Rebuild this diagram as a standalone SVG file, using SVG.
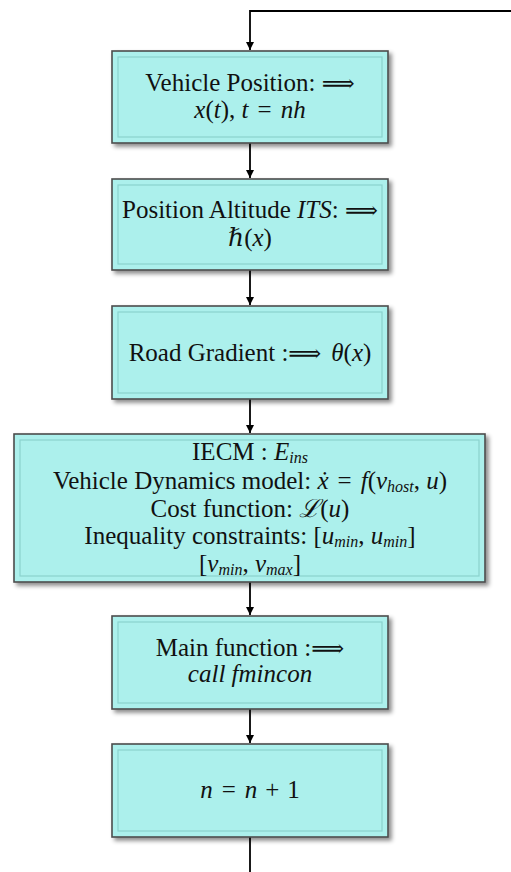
<svg xmlns="http://www.w3.org/2000/svg" width="511" height="872" viewBox="0 0 511 872">
  <style>
    .box { fill: #acf0ec; stroke: #4d4d4d; stroke-width: 1.6; }
    .inner { fill: none; stroke: #8ad2ce; stroke-width: 1.2; }
    .lbl { font-family: "Liberation Serif", "DejaVu Serif", serif; font-size: 25px; fill: #111; text-anchor: middle; }
    .m { font-style: italic; }
    .sub { font-style: italic; font-size: 16px; }
    .sym { font-family: "DejaVu Serif", serif; font-size: 23px; }
    .wire { fill: none; stroke: #000; stroke-width: 1.8; }
  </style>
  <defs>
    <filter id="shadow" x="-5%" y="-10%" width="115%" height="130%">
      <feDropShadow dx="3" dy="3" stdDeviation="2" flood-color="#000" flood-opacity="0.45"/>
    </filter>
    <marker id="arrow" viewBox="0 0 10 10" refX="10" refY="5" markerWidth="8" markerHeight="8" markerUnits="userSpaceOnUse" orient="auto">
      <path d="M0,0 L10,5 L0,10 z" fill="#000"/>
    </marker>
  </defs>

  <!-- connectors -->
  <g id="connectors">
    <path class="wire" d="M511,11 H250 V50" marker-end="url(#arrow)"/>
    <path class="wire" d="M250,143 V178" marker-end="url(#arrow)"/>
    <path class="wire" d="M250,270 V305" marker-end="url(#arrow)"/>
    <path class="wire" d="M250,399 V433" marker-end="url(#arrow)"/>
    <path class="wire" d="M250,582 V615" marker-end="url(#arrow)"/>
    <path class="wire" d="M250,709 V743" marker-end="url(#arrow)"/>
    <path class="wire" d="M250,837 V872"/>
  </g>

  <!-- vehicle position -->
  <g id="position">
    <rect class="box" x="112" y="51" width="276" height="92" filter="url(#shadow)"/>
    <rect class="inner" x="118" y="57" width="264" height="80"/>
    <text class="lbl" x="250" y="91">Vehicle Position: <tspan class="sym">⟹</tspan></text>
    <text class="lbl" x="250" y="118"><tspan class="m">x</tspan>(<tspan class="m">t</tspan>), <tspan class="m">t</tspan><tspan dx="9">=</tspan><tspan class="m" dx="9">nh</tspan></text>
  </g>

  <!-- altitude -->
  <g id="altitude">
    <rect class="box" x="112" y="179" width="276" height="91" filter="url(#shadow)"/>
    <rect class="inner" x="118" y="185" width="264" height="79"/>
    <text class="lbl" x="250" y="218">Position Altitude <tspan class="m">ITS</tspan>: <tspan class="sym">⟹</tspan></text>
    <text class="lbl" x="250" y="246"><tspan class="m">ℏ</tspan>(<tspan class="m">x</tspan>)</text>
  </g>

  <!-- gradient -->
  <g id="gradient">
    <rect class="box" x="112" y="306" width="276" height="93" filter="url(#shadow)"/>
    <rect class="inner" x="118" y="312" width="264" height="81"/>
    <text class="lbl" x="250" y="361">Road Gradient :<tspan class="sym">⟹</tspan><tspan class="m" dx="10">θ</tspan>(<tspan class="m">x</tspan>)</text>
  </g>

  <!-- model setup -->
  <g id="model">
    <rect class="box" x="14" y="434" width="471" height="148" filter="url(#shadow)"/>
    <rect class="inner" x="20" y="440" width="459" height="136"/>
    <text class="lbl" x="250" y="460">IECM : <tspan class="m">E</tspan><tspan class="sub" dy="3">ins</tspan></text>
    <text class="lbl" x="250" y="489">Vehicle Dynamics model: <tspan class="m">ẋ</tspan><tspan dx="9">=</tspan><tspan class="m" dx="9">f</tspan>(<tspan class="m">v</tspan><tspan class="sub" dy="3">host</tspan><tspan dy="-3">, </tspan><tspan class="m">u</tspan>)</text>
    <text class="lbl" x="250" y="517">Cost function: <tspan class="m">ℒ</tspan>(<tspan class="m">u</tspan>)</text>
    <text class="lbl" x="250" y="544">Inequality constraints: [<tspan class="m">u</tspan><tspan class="sub" dy="3">min</tspan><tspan dy="-3">, </tspan><tspan class="m">u</tspan><tspan class="sub" dy="3">min</tspan><tspan dy="-3">]</tspan></text>
    <text class="lbl" x="250" y="572">[<tspan class="m">v</tspan><tspan class="sub" dy="3">min</tspan><tspan dy="-3">, </tspan><tspan class="m">v</tspan><tspan class="sub" dy="3">max</tspan><tspan dy="-3">]</tspan></text>
  </g>

  <!-- solver call -->
  <g id="solver">
    <rect class="box" x="112" y="616" width="276" height="93" filter="url(#shadow)"/>
    <rect class="inner" x="118" y="622" width="264" height="81"/>
    <text class="lbl" x="250" y="656">Main function :<tspan class="sym">⟹</tspan></text>
    <text class="lbl m" x="250" y="682">call fmincon</text>
  </g>

  <!-- step increment -->
  <g id="increment">
    <rect class="box" x="112" y="744" width="276" height="93" filter="url(#shadow)"/>
    <rect class="inner" x="118" y="750" width="264" height="81"/>
    <text class="lbl" x="250" y="798"><tspan class="m">n</tspan><tspan dx="9">=</tspan><tspan class="m" dx="9">n</tspan><tspan dx="8">+</tspan><tspan dx="8">1</tspan></text>
  </g>
</svg>
